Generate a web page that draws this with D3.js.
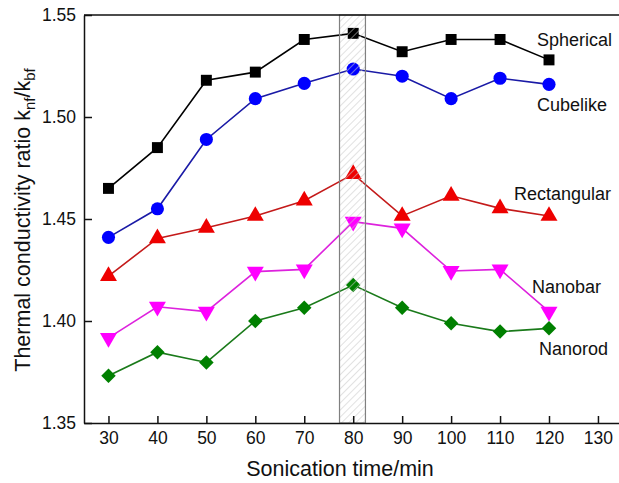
<!DOCTYPE html>
<html lang="en">
<head>
<meta charset="utf-8">
<title>Thermal conductivity ratio vs sonication time</title>
<script src="https://d3js.org/d3.v7.min.js"></script>
<style>
  body { margin: 0; background: #fff; }
  text { font-family: "Liberation Sans", Arial, sans-serif; fill: #111; }
  .tick text { font-size: 17.5px; }
  .axis path, .axis line { stroke: #111; stroke-width: 1.5; }
  .line { fill: none; stroke-width: 1.6; }
  .series_label { font-size: 18px; }
  .axis_label { font-size: 21.5px; }
</style>
</head>
<body>
<script>
// data
const times = [30, 40, 50, 60, 70, 80, 90, 100, 110, 120];
const spherical   = [1.465, 1.485, 1.518, 1.522, 1.538, 1.541, 1.532, 1.538, 1.538, 1.528];
const cubelike    = [1.441, 1.455, 1.489, 1.509, 1.5165, 1.5235, 1.520, 1.509, 1.519, 1.516];
const rectangular = [1.422, 1.4405, 1.4457, 1.4515, 1.459, 1.472, 1.4515, 1.4614, 1.4552, 1.4515];
const nanobar     = [1.3917, 1.407, 1.4046, 1.4242, 1.4253, 1.4487, 1.4454, 1.4245, 1.4253, 1.4046];
const nanorod     = [1.3732, 1.3847, 1.3797, 1.400, 1.4065, 1.4176, 1.4065, 1.3989, 1.3948, 1.3964];
const xTicks = [30, 40, 50, 60, 70, 80, 90, 100, 110, 120, 130];
const yTicks = [1.35, 1.40, 1.45, 1.50, 1.55];
const shaded = [77.2, 82.5];

const w = 619, h = 483;
const plotLeft = 84, plotRight = 619, plotTop = 15, plotBottom = 423;

const x = d3.scaleLinear().domain([25, 134.3]).range([plotLeft, plotRight]);
const y = d3.scaleLinear().domain([1.35, 1.55]).range([plotBottom, plotTop]);

const svg = d3.select("body").append("svg")
    .attr("width", w).attr("height", h);

const defs = svg.append("defs");
const pat = defs.append("pattern")
    .attr("id", "hatch")
    .attr("patternUnits", "userSpaceOnUse")
    .attr("width", 5).attr("height", 5)
    .attr("patternTransform", "rotate(45)");
pat.append("line")
    .attr("x1", 0).attr("y1", 0).attr("x2", 0).attr("y2", 5)
    .attr("stroke", "#c8c8c8").attr("stroke-width", 1.1);

// series
const series = [
  { name: "Spherical",   values: spherical,   line: "#000000", fill: "#000000", shape: "square",   lx: 537, ly: 46 },
  { name: "Cubelike",    values: cubelike,    line: "#1a1aa6", fill: "#0000ff", shape: "circle",   lx: 537, ly: 111 },
  { name: "Rectangular", values: rectangular, line: "#c41a1a", fill: "#ee0000", shape: "triangle", lx: 514, ly: 200 },
  { name: "Nanobar",     values: nanobar,     line: "#dd22dd", fill: "#ff00ff", shape: "down",     lx: 532, ly: 293 },
  { name: "Nanorod",     values: nanorod,     line: "#1a7a1a", fill: "#008000", shape: "diamond",  lx: 539, ly: 355 }
];

const line = d3.line()
    .x((d, i) => x(times[i]))
    .y(d => y(d));

function symbolPath(shape) {
  if (shape === "square") return d3.symbol(d3.symbolSquare, 120)();
  if (shape === "circle") return d3.symbol(d3.symbolCircle, 135)();
  if (shape === "diamond") return d3.symbol(d3.symbolSquare, 105)();
  return d3.symbol(d3.symbolTriangle, 125)();
}
function symbolRotate(shape) {
  if (shape === "diamond") return 45;
  if (shape === "down") return 180;
  return 0;
}

series.forEach(s => {
  svg.append("path")
      .attr("class", "line")
      .attr("d", line(s.values))
      .attr("stroke", s.line);

  svg.selectAll(null)
    .data(s.values)
    .join("path")
      .attr("d", symbolPath(s.shape))
      .attr("transform", (d, i) => "translate(" + x(times[i]) + "," + y(d) + ") rotate(" + symbolRotate(s.shape) + ")")
      .attr("fill", s.fill);

  svg.append("text")
      .attr("class", "series_label")
      .attr("x", s.lx).attr("y", s.ly)
      .text(s.name);
});

// hatched band
svg.append("rect")
    .attr("x", x(shaded[0]))
    .attr("y", plotTop)
    .attr("width", x(shaded[1]) - x(shaded[0]))
    .attr("height", plotBottom - plotTop)
    .attr("fill", "url(#hatch)")
    .attr("stroke", "#808080")
    .attr("stroke-width", 1.2);

// axes
const bottomAxis = d3.axisBottom(x)
    .tickValues(xTicks)
    .tickSizeInner(-7).tickSizeOuter(0)
    .tickPadding(9);
svg.append("g")
    .attr("class", "axis")
    .attr("transform", "translate(0," + plotBottom + ")")
    .call(bottomAxis);

const leftAxis = d3.axisLeft(y)
    .tickValues(yTicks)
    .tickFormat(d3.format(".2f"))
    .tickSizeInner(-8).tickSizeOuter(0)
    .tickPadding(8);
svg.append("g")
    .attr("class", "axis")
    .attr("transform", "translate(" + plotLeft + ",0)")
    .call(leftAxis);

// top frame line
svg.append("line")
    .attr("x1", plotLeft).attr("x2", plotRight)
    .attr("y1", plotTop).attr("y2", plotTop)
    .attr("stroke", "#111").attr("stroke-width", 1.5);

// axis labels
svg.append("text")
    .attr("class", "axis_label")
    .attr("x", 340)
    .attr("y", 476)
    .attr("text-anchor", "middle")
    .text("Sonication time/min");

const yl = svg.append("text")
    .attr("class", "axis_label")
    .attr("text-anchor", "middle")
    .attr("transform", "translate(30,220) rotate(-90)");
yl.append("tspan").text("Thermal conductivity ratio k");
yl.append("tspan").attr("font-size", "15px").attr("dy", 5).text("nf");
yl.append("tspan").attr("dy", -5).text("/k");
yl.append("tspan").attr("font-size", "15px").attr("dy", 5).text("bf");
</script>
</body>
</html>
